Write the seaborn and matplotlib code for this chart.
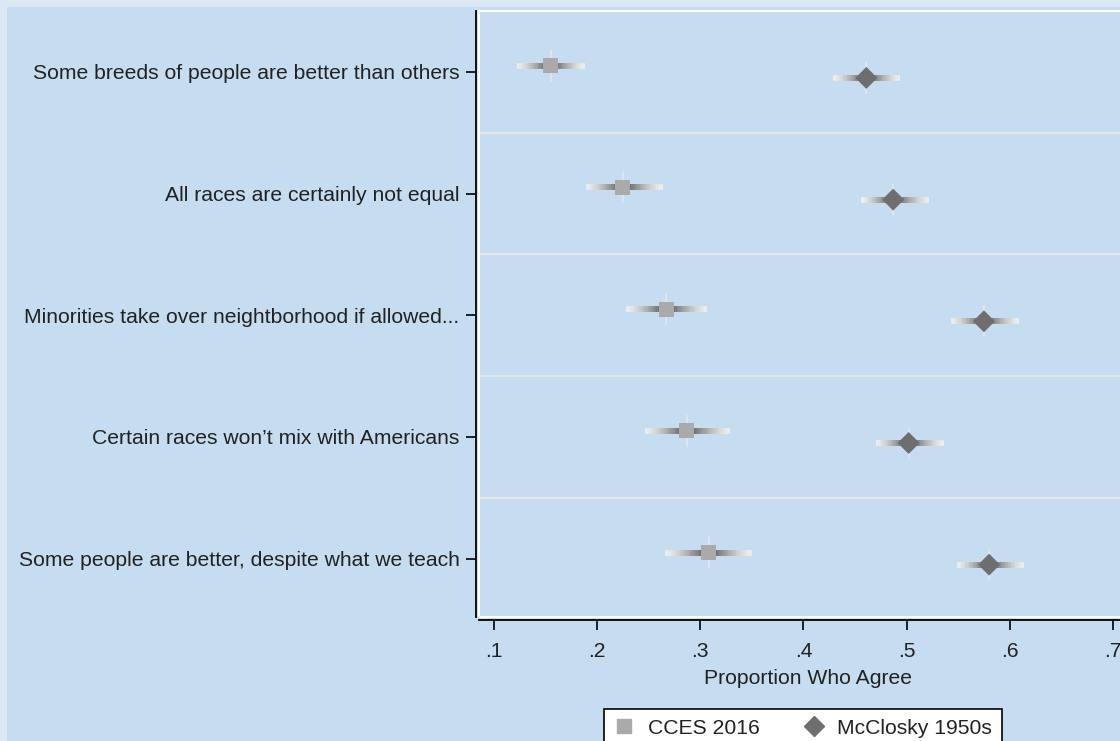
import numpy as np
import pandas as pd
import matplotlib
matplotlib.use("Agg")
import matplotlib.pyplot as plt
from matplotlib.lines import Line2D
from matplotlib.patches import Rectangle
import seaborn as sns

# data
items = [
    "Some breeds of people are better than others",
    "All races are certainly not equal",
    "Minorities take over neightborhood if allowed...",
    "Certain races won\u2019t mix with Americans",
    "Some people are better, despite what we teach",
]
cces_est = [0.155, 0.225, 0.267, 0.287, 0.308]
cces_lo = [0.122, 0.189, 0.228, 0.246, 0.266]
cces_hi = [0.188, 0.264, 0.307, 0.329, 0.350]
mcc_est = [0.461, 0.487, 0.575, 0.502, 0.580]
mcc_lo = [0.429, 0.456, 0.543, 0.470, 0.549]
mcc_hi = [0.494, 0.522, 0.609, 0.536, 0.614]
x_ticks = [0.1, 0.2, 0.3, 0.4, 0.5, 0.6, 0.7]
x_ticklabels = [".1", ".2", ".3", ".4", ".5", ".6", ".7"]

sns.set_theme(style="white")
plt.rcParams['font.family'] = ['Liberation Sans', 'DejaVu Sans']

pos = np.arange(1, len(items) + 1)
df = pd.concat([
    pd.DataFrame({"item": items, "y": pos - 0.05, "est": cces_est,
                  "lo": cces_lo, "hi": cces_hi, "source": "CCES 2016"}),
    pd.DataFrame({"item": items, "y": pos + 0.05, "est": mcc_est,
                  "lo": mcc_lo, "hi": mcc_hi, "source": "McClosky 1950s"}),
])

outer = "#dde8f4"
inner = "#c6dcf0"
txt = "#222222"
fs = 15.2

fig = plt.figure(figsize=(11.2, 7.41), dpi=100, facecolor=outer)
fig.patches.append(Rectangle((7 / 1120, 0), 1, 1 - 7 / 741, transform=fig.transFigure,
                             facecolor=inner, edgecolor="none", zorder=-10))
ax = fig.add_axes([479 / 1120, 1 - 617 / 741, 1 - 479 / 1120 + 0.001, (617 - 11) / 741])
ax.set_facecolor(inner)

# spines first: set_position resets the ticks
for s in ["top", "right"]:
    ax.spines[s].set_visible(False)
for s in ["left", "bottom"]:
    ax.spines[s].set_color("black")
    ax.spines[s].set_linewidth(1.3)
    ax.spines[s].set_position(("outward", 2))

# separators between items
for b in pos[:-1] + 0.5:
    ax.axhline(b, color="#e4e7e8", lw=1.6, zorder=1)

# gradient error bars: light at the ends, dark near the estimate
steps = 24
for _, r in df.iterrows():
    half_l = r["est"] - r["lo"]
    half_r = r["hi"] - r["est"]
    for k in range(steps):
        f = 1 - k / steps
        g = 0.93 - 0.62 * (k / (steps - 1)) ** 1.4
        ax.hlines(r["y"], r["est"] - f * half_l, r["est"] + f * half_r,
                  color=(g, g, g), lw=4.0, zorder=2)
    ax.vlines(r["est"], r["y"] - 0.13, r["y"] + 0.13, color="#e0e6ef", lw=1.4, zorder=2)

pal = {"CCES 2016": "#aaaaaa", "McClosky 1950s": "#6e6e6e"}
sns.scatterplot(data=df[df.source == "CCES 2016"], x="est", y="y", marker="s", s=118,
                color=pal["CCES 2016"], edgecolor="none", ax=ax, zorder=3, legend=False)
sns.scatterplot(data=df[df.source == "McClosky 1950s"], x="est", y="y", marker="D", s=125,
                color=pal["McClosky 1950s"], edgecolor="none", ax=ax, zorder=3, legend=False)

ax.set_xlim(0.0855, 0.708)
ax.set_ylim(5.48, 0.5)
ax.set_yticks(pos)
ax.set_yticklabels(items)
ax.set_xticks(x_ticks)
ax.set_xticklabels(x_ticklabels)
ax.set_xlabel("Proportion Who Agree", fontsize=fs, color=txt, labelpad=5.5)
ax.xaxis.set_label_coords(0.512, -0.085)
ax.set_ylabel("")
ax.tick_params(axis="both", length=7, width=1.2, color="black", direction="out",
               left=True, bottom=True, labelsize=fs, labelcolor=txt)
ax.tick_params(axis="x", pad=9)
ax.tick_params(axis="y", pad=5)

# white plot-region frame
ax.add_patch(Rectangle((0, 0), 1, 1, transform=ax.transAxes, fill=False,
                       edgecolor="white", lw=1.5, zorder=4, clip_on=False))

handles = [Line2D([], [], marker="s", ls="none", color=pal["CCES 2016"], ms=10.5),
           Line2D([], [], marker="D", ls="none", color=pal["McClosky 1950s"], ms=10)]
leg = fig.legend(handles, ["CCES 2016", "McClosky 1950s"], loc="upper center",
                 bbox_to_anchor=(803 / 1120, 1 - 709 / 741), borderaxespad=0, ncol=2,
                 frameon=True, fontsize=fs, fancybox=False, handletextpad=0.6,
                 columnspacing=2.1, borderpad=0.45, handlelength=1.0)
leg.get_frame().set_edgecolor("black")
leg.get_frame().set_facecolor("white")
leg.get_frame().set_linewidth(1.2)
leg.get_frame().set_alpha(1)
for t in leg.get_texts():
    t.set_color(txt)

fig.savefig("out.png", dpi=100, facecolor=outer)
